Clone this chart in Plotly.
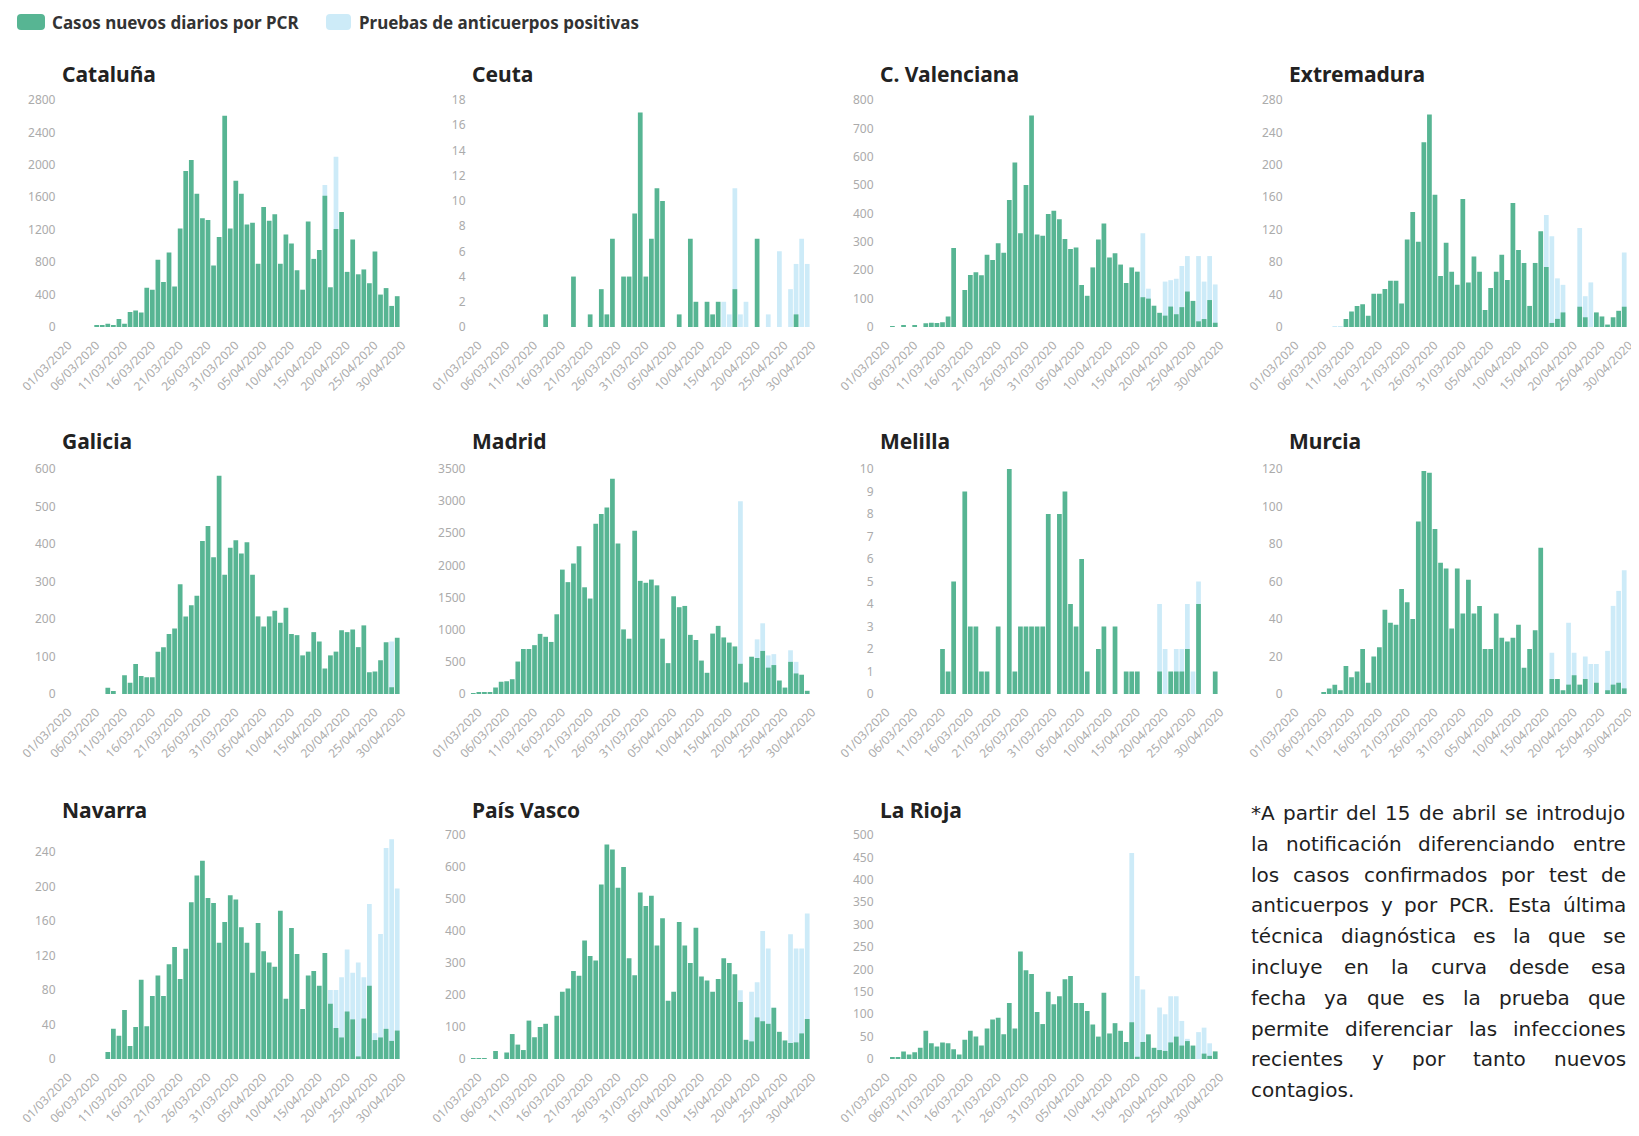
import plotly.graph_objects as go
import pandas as pd

W, H = 1639, 1136

# ---------------- data ----------------
dates = [d.strftime("%Y-%m-%d") for d in pd.date_range("2020-03-01", "2020-04-30", freq="D")]
tick_vals = dates[::5]
tick_labels = ["01/03/2020", "06/03/2020", "11/03/2020", "16/03/2020", "21/03/2020",
               "26/03/2020", "31/03/2020", "05/04/2020", "10/04/2020", "15/04/2020",
               "20/04/2020", "25/04/2020", "30/04/2020"]

legend_pcr = "Casos nuevos diarios por PCR"
legend_anti = "Pruebas de anticuerpos positivas"

cataluna_pcr = [0, 0, 0, 0, 0, 0, 15, 15, 40, 20,
                100, 40, 185, 205, 180, 485, 460, 830, 555, 920,
                500, 1215, 1925, 2060, 1645, 1340, 1320, 760, 1110, 2605,
                1215, 1805, 1645, 1265, 1285, 780, 1480, 1310, 1390, 780,
                1140, 1030, 700, 460, 1300, 840, 950, 1620, 490, 1210,
                1420, 680, 1080, 650, 710, 540, 930, 400, 480, 260,
                380]
cataluna_anti = [0] * 47 + [1750, 0, 2100] + [0] * 11

ceuta_pcr = [0, 0, 0, 0, 0, 0, 0, 0, 0, 0,
             0, 0, 0, 1, 0, 0, 0, 0, 4, 0,
             0, 1, 0, 3, 1, 7, 0, 4, 4, 9,
             17, 4, 7, 11, 10, 0, 0, 1, 0, 7,
             2, 0, 2, 1, 2, 0, 0, 3, 0, 0,
             0, 7, 0, 0, 0, 0, 0, 0, 1, 0,
             0]
ceuta_anti = [0] * 40 + [0, 0, 0, 0, 0, 2, 1, 11, 1, 2,
                         0, 0, 0, 1, 0, 6, 0, 3, 5, 7,
                         5]

valenciana_pcr = [0, 0, 2, 0, 6, 0, 4, 0, 13, 15,
                  14, 17, 37, 278, 0, 130, 183, 193, 182, 255,
                  236, 295, 262, 448, 580, 330, 500, 745, 326, 322,
                  398, 410, 380, 310, 275, 280, 148, 110, 210, 308,
                  365, 245, 260, 220, 155, 210, 195, 105, 100, 75,
                  50, 40, 72, 45, 70, 125, 92, 20, 28, 95,
                  15]
valenciana_anti = [0] * 40 + [0, 0, 0, 0, 0, 0, 0, 330, 135, 0,
                              0, 160, 165, 170, 215, 250, 0, 250, 160, 250,
                              150]

extremadura_pcr = [0, 0, 0, 0, 0, 0, 0, 0, 0, 0,
                   10, 19, 26, 28, 14, 41, 41, 47, 57, 57,
                   29, 108, 142, 105, 228, 262, 163, 63, 104, 68,
                   52, 158, 55, 87, 68, 21, 48, 68, 89, 58,
                   153, 95, 79, 26, 79, 118, 74, 5, 10, 18,
                   0, 0, 25, 12, 0, 18, 13, 3, 12, 20,
                   25]
extremadura_anti = [0, 0, 0, 0, 0, 0, 0, 0, 1, 1] + [0] * 30 + \
                   [0, 0, 0, 0, 0, 0, 138, 112, 60, 52,
                    0, 0, 122, 38, 55, 0, 0, 0, 0, 0,
                    92]

galicia_pcr = [0, 0, 0, 0, 0, 0, 0, 0, 17, 8,
               0, 50, 30, 80, 48, 45, 45, 113, 125, 160,
               175, 293, 207, 237, 262, 408, 448, 365, 582, 318,
               390, 410, 375, 405, 318, 207, 180, 207, 222, 190,
               230, 160, 157, 103, 113, 165, 140, 68, 103, 113,
               170, 165, 172, 125, 183, 58, 60, 90, 138, 18,
               150]
galicia_anti = [0] * 59 + [140, 0]

madrid_pcr = [15, 20, 25, 30, 100, 190, 200, 230, 505, 700,
              700, 760, 935, 890, 810, 1240, 1935, 1740, 2030, 2300,
              1660, 1485, 2650, 2800, 2900, 3350, 2340, 1005, 860, 2540,
              1760, 1730, 1780, 1690, 860, 480, 1520, 1350, 1370, 920,
              840, 520, 330, 940, 1060, 880, 800, 740, 470, 180,
              580, 560, 670, 410, 450, 210, 100, 500, 320, 300,
              50]
madrid_anti = [0] * 40 + [0, 0, 0, 0, 0, 0, 0, 0, 3000, 0,
                          400, 850, 1100, 600, 620, 0, 0, 680, 500, 0,
                          0]

melilla_pcr = [0, 0, 0, 0, 0, 0, 0, 0, 0, 0,
               0, 2, 1, 5, 0, 9, 3, 3, 1, 1,
               0, 3, 0, 10, 1, 3, 3, 3, 3, 3,
               8, 0, 8, 9, 4, 3, 6, 1, 0, 2,
               3, 0, 3, 0, 1, 1, 1, 0, 0, 0,
               1, 0, 1, 1, 1, 2, 0, 4, 0, 0,
               1]
melilla_anti = [0] * 50 + [4, 2, 0, 2, 2, 4, 1, 5, 0, 0, 0]

murcia_pcr = [0, 0, 0, 0, 0, 0, 1, 3, 5, 2,
              15, 9, 12, 24, 6, 20, 25, 45, 38, 37,
              56, 49, 40, 92, 119, 118, 88, 70, 67, 35,
              67, 43, 61, 43, 47, 24, 24, 43, 30, 28,
              30, 37, 14, 24, 34, 78, 0, 8, 8, 2,
              5, 10, 5, 8, 0, 6, 0, 2, 5, 6,
              3]
murcia_anti = [0] * 40 + [0, 0, 0, 0, 0, 0, 0, 22, 0, 0,
                          38, 22, 0, 20, 16, 16, 0, 23, 47, 55,
                          66]

navarra_pcr = [0, 0, 0, 0, 0, 0, 0, 0, 8, 35,
               27, 57, 15, 37, 92, 38, 73, 97, 73, 110,
               130, 93, 128, 182, 213, 230, 187, 181, 135, 159,
               190, 185, 153, 135, 100, 158, 125, 112, 107, 172,
               70, 152, 122, 58, 97, 102, 85, 123, 64, 36,
               25, 55, 46, 3, 47, 85, 22, 25, 35, 21,
               33]
navarra_anti = [0] * 40 + [0, 0, 0, 0, 0, 0, 0, 0, 80, 80,
                           95, 127, 100, 112, 95, 180, 30, 145, 245, 255,
                           198]

paisvasco_pcr = [1, 2, 1, 0, 25, 0, 20, 78, 45, 28,
                 120, 68, 100, 110, 0, 135, 210, 220, 275, 260,
                 370, 322, 308, 545, 670, 655, 535, 600, 315, 262,
                 520, 478, 510, 355, 440, 182, 210, 428, 355, 300,
                 410, 258, 245, 210, 250, 315, 300, 265, 178, 60,
                 55, 130, 118, 110, 160, 85, 58, 50, 52, 80,
                 125]
paisvasco_anti = [0] * 40 + [0, 0, 0, 0, 0, 0, 0, 0, 215, 0,
                             210, 240, 400, 345, 160, 0, 0, 390, 345, 345,
                             455]

larioja_pcr = [0, 0, 3, 3, 17, 10, 15, 25, 63, 35,
               28, 37, 35, 22, 10, 43, 63, 50, 30, 68,
               88, 92, 55, 125, 68, 240, 198, 190, 105, 78,
               150, 122, 140, 178, 185, 125, 125, 107, 77, 50,
               148, 57, 80, 63, 38, 82, 5, 38, 55, 25,
               20, 18, 37, 50, 30, 40, 30, 0, 12, 7,
               17]
larioja_anti = [0] * 40 + [0, 0, 0, 0, 0, 460, 185, 155, 40, 0,
                           115, 100, 140, 140, 85, 45, 0, 60, 70, 35,
                           0]

region_names = ["Cataluña", "Ceuta", "C. Valenciana", "Extremadura",
                "Galicia", "Madrid", "Melilla", "Murcia",
                "Navarra", "País Vasco", "La Rioja"]
pcr_series = [cataluna_pcr, ceuta_pcr, valenciana_pcr, extremadura_pcr,
              galicia_pcr, madrid_pcr, melilla_pcr, murcia_pcr,
              navarra_pcr, paisvasco_pcr, larioja_pcr]
anti_series = [cataluna_anti, ceuta_anti, valenciana_anti, extremadura_anti,
               galicia_anti, madrid_anti, melilla_anti, murcia_anti,
               navarra_anti, paisvasco_anti, larioja_anti]
y_max = [2800, 18, 800, 280, 600, 3500, 10, 120, 260, 700, 500]
y_dtick = [400, 2, 100, 40, 100, 500, 1, 20, 40, 100, 50]
y_tickmax = [2800, 18, 800, 280, 600, 3500, 10, 120, 240, 700, 500]

note_lines = [
    "*A partir del 15 de abril se introdujo",
    "la notificación diferenciando entre",
    "los casos confirmados por test de",
    "anticuerpos y por PCR. Esta última",
    "técnica diagnóstica es la que se",
    "incluye en la curva desde esa",
    "fecha ya que es la prueba que",
    "permite diferenciar las infecciones",
    "recientes y por tanto nuevos",
    "contagios.",
]

for s in pcr_series + anti_series:
    assert len(s) == 61, len(s)

# ---------------- layout geometry (page pixels) ----------------
GREEN = "#57b593"
BLUE = "#cdebf8"
OFF = 8            # default page margin around the plot div
col_left = [60.5, 470.5, 878.5, 1287.5]
plot_w = 339.5
row_top = [100, 469, 835]
row_bot = [327, 694, 1059]
title_y = [74, 441, 810]

NOTE_FONT = 20
NOTE_X0, NOTE_X1 = 1249, 1624
NOTE_Y0, NOTE_DY = 813, 30.8

# approximate DejaVu Sans advance widths (em) for justification
_w = {" ": .318, "a": .613, "b": .635, "c": .550, "d": .635, "e": .615, "f": .352,
      "g": .635, "h": .634, "i": .278, "j": .278, "k": .579, "l": .278, "m": .974,
      "n": .634, "o": .612, "p": .635, "q": .635, "r": .411, "s": .521, "t": .392,
      "u": .634, "v": .592, "w": .818, "x": .592, "y": .592, "z": .525,
      "á": .613, "é": .615, "í": .278, "ó": .612, "ú": .634, "ñ": .634,
      "A": .684, "C": .698, "E": .632, "P": .603, "R": .695,
      "*": .5, ".": .318, "1": .636, "5": .636}


def text_w(s):
    return sum(_w.get(ch, .6) for ch in s) * NOTE_FONT


def px(x):
    return (x - OFF) / W


def py(y):
    return 1 - (y - OFF) / H


fig = go.Figure()
annotations = []
layout_axes = {}

for i, name in enumerate(region_names):
    r, c = divmod(i, 4)
    k = "" if i == 0 else str(i + 1)
    fig.add_trace(go.Bar(x=dates, y=anti_series[i], marker_color=BLUE,
                         marker_line_width=0, name=legend_anti,
                         xaxis="x" + k, yaxis="y" + k, showlegend=False))
    fig.add_trace(go.Bar(x=dates, y=pcr_series[i], marker_color=GREEN,
                         marker_line_width=0, name=legend_pcr,
                         xaxis="x" + k, yaxis="y" + k, showlegend=False))
    layout_axes["xaxis" + k] = dict(
        domain=[px(col_left[c]), px(col_left[c] + plot_w)],
        anchor="y" + k, automargin=False,
        type="date",
        range=["2020-02-29 12:00", "2020-04-30 12:00"],
        tickvals=tick_vals, ticktext=tick_labels, tickangle=-45,
        tickfont=dict(family="Noto Sans", size=12, color="#ababab"),
        ticklabelstandoff=8, ticklabelshift=5,
        showgrid=False, zeroline=False, showline=False, ticks="",
        fixedrange=True,
    )
    layout_axes["yaxis" + k] = dict(
        domain=[py(row_bot[r]), py(row_top[r])],
        anchor="x" + k, automargin=False,
        range=[0, y_max[i]],
        tickvals=list(range(0, y_tickmax[i] + 1, y_dtick[i])),
        tickfont=dict(family="Noto Sans", size=12, color="#ababab"),
        ticklabelstandoff=4,
        showgrid=False, zeroline=False, showline=False, ticks="",
        fixedrange=True,
    )
    annotations.append(dict(
        text=name, xref="paper", yref="paper",
        x=px(col_left[c] - 1), y=py(title_y[r]),
        xanchor="left", yanchor="middle", showarrow=False,
        font=dict(family="Noto Sans", size=21, color="#222222", weight=700),
    ))


# legend (custom)
def rrect(x0, y0, x1, y1, rad):
    pts = lambda x, y: f"{px(x):.5f},{py(y):.5f}"
    return (f"M {pts(x0 + rad, y0)} L {pts(x1 - rad, y0)} Q {pts(x1, y0)} {pts(x1, y0 + rad)} "
            f"L {pts(x1, y1 - rad)} Q {pts(x1, y1)} {pts(x1 - rad, y1)} "
            f"L {pts(x0 + rad, y1)} Q {pts(x0, y1)} {pts(x0, y1 - rad)} "
            f"L {pts(x0, y0 + rad)} Q {pts(x0, y0)} {pts(x0 + rad, y0)} Z")


shapes = [
    dict(type="path", xref="paper", yref="paper", path=rrect(17, 14, 45, 30, 4),
         fillcolor=GREEN, line_width=0),
    dict(type="path", xref="paper", yref="paper", path=rrect(326, 14, 351, 30, 4),
         fillcolor=BLUE, line_width=0),
]
annotations.append(dict(text=legend_pcr, xref="paper", yref="paper", x=px(50), y=py(22),
                        xanchor="left", yanchor="middle", showarrow=False,
                        font=dict(family="Noto Sans", size=17, color="#333333", weight=700)))
annotations.append(dict(text=legend_anti, xref="paper", yref="paper", x=px(357), y=py(22),
                        xanchor="left", yanchor="middle", showarrow=False,
                        font=dict(family="Noto Sans", size=17, color="#333333", weight=700)))

# note text, justified word by word inside the free cell
for li, line in enumerate(note_lines):
    words = line.split(" ")
    yc = NOTE_Y0 + NOTE_DY * li
    if li == len(note_lines) - 1 or len(words) == 1:
        words, xs = [line], [NOTE_X0]
    else:
        total = sum(text_w(wd) for wd in words)
        gap = (NOTE_X1 - NOTE_X0 - total) / (len(words) - 1)
        xs, cur = [], NOTE_X0
        for wd in words:
            xs.append(cur)
            cur += text_w(wd) + gap
    for wd, xw in zip(words, xs):
        annotations.append(dict(text=wd, xref="paper", yref="paper", x=px(xw), y=py(yc),
                                xanchor="left", yanchor="middle", showarrow=False,
                                font=dict(family="DejaVu Sans", size=NOTE_FONT, color="#1e1e1e")))

fig.update_layout(
    width=W, height=H, autosize=False,
    margin=dict(l=0, r=0, t=0, b=0),
    paper_bgcolor="white", plot_bgcolor="white",
    barmode="overlay", bargap=0.15,
    showlegend=False,
    annotations=annotations, shapes=shapes,
    **layout_axes,
)

fig.write_html("out.html")
